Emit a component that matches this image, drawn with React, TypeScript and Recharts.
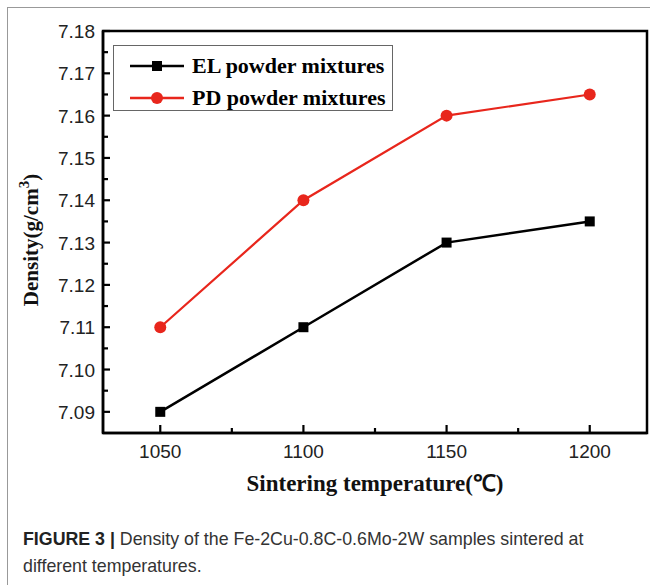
import React from 'react';
import { LineChart, Line, XAxis, YAxis, ReferenceArea, Legend } from 'recharts';

const temperatures = [1050, 1100, 1150, 1200];
const elDensity = [7.09, 7.11, 7.13, 7.135];
const pdDensity = [7.11, 7.14, 7.16, 7.165];
const xTicks = [1050, 1075, 1100, 1125, 1150, 1175, 1200];
const xMajor = [1050, 1100, 1150, 1200];
const yTicks = [7.09, 7.095, 7.1, 7.105, 7.11, 7.115, 7.12, 7.125, 7.13, 7.135, 7.14, 7.145, 7.15, 7.155, 7.16, 7.165, 7.17, 7.175, 7.18];
const yMajor = [7.09, 7.1, 7.11, 7.12, 7.13, 7.14, 7.15, 7.16, 7.17, 7.18];
const seriesNames = ['EL powder mixtures', 'PD powder mixtures'];

const data = temperatures.map((t, i) => ({ t, el: elDensity[i], pd: pdDensity[i] }));

const RED = '#e8261c';
const SERIF = '"Liberation Serif", "Times New Roman", serif';
const SANS = '"Liberation Sans", Arial, sans-serif';

const isMajor = (arr: number[], v: number) => arr.some((m) => Math.abs(m - v) < 1e-6);

const YTick = (props: any) => {
  const { x, y, payload } = props;
  const major = isMajor(yMajor, payload.value);
  return (
    <g>
      <line x1={x} x2={x + (major ? 7 : 5)} y1={y} y2={y} stroke="#000" strokeWidth={2.2} />
      {major && (
        <text x={x - 8} y={y} dy={7} textAnchor="end" fontFamily={SANS} fontSize={19} fill="#222">
          {payload.value.toFixed(2)}
        </text>
      )}
    </g>
  );
};

const XTick = (props: any) => {
  const { x, y, payload } = props;
  const major = isMajor(xMajor, payload.value);
  return (
    <g>
      <line x1={x} x2={x} y1={y} y2={y - (major ? 8 : 5)} stroke="#000" strokeWidth={2.2} />
      {major && (
        <text x={x} y={y + 25} textAnchor="middle" fontFamily={SANS} fontSize={19} fill="#222">
          {payload.value}
        </text>
      )}
    </g>
  );
};

const SquareDot = (props: any) => {
  const { cx, cy } = props;
  if (cx == null || cy == null) return null;
  return <rect x={cx - 5} y={cy - 5} width={10} height={10} fill="#000" />;
};

const CircleDot = (props: any) => {
  const { cx, cy } = props;
  if (cx == null || cy == null) return null;
  return <circle cx={cx} cy={cy} r={6} fill={RED} />;
};

const LegendContent = () => (
  <div
    style={{
      width: 280,
      height: 66,
      border: '1.5px solid #666',
      boxSizing: 'border-box',
      background: '#fff',
      position: 'relative',
    }}
  >
    {seriesNames.map((name, i) => (
      <div key={name} style={{ position: 'absolute', left: 0, top: i === 0 ? 8 : 40, height: 24, display: 'flex', alignItems: 'center' }}>
        <svg width={75} height={24} style={{ display: 'block' }}>
          <line x1={16} x2={70} y1={12} y2={12} stroke={i === 0 ? '#000' : RED} strokeWidth={2.5} />
          {i === 0 ? <rect x={38} y={7} width={10} height={10} fill="#000" /> : <circle cx={43} cy={12} r={6} fill={RED} />}
        </svg>
        <span style={{ fontFamily: SERIF, fontWeight: 'bold', fontSize: 22, color: '#000', marginLeft: 3, whiteSpace: 'nowrap' }}>{name}</span>
      </div>
    ))}
  </div>
);

export default function App() {
  return (
    <div style={{ position: 'absolute', left: 0, top: 0, width: 650, height: 585, background: '#fff', overflow: 'hidden' }}>
      <div style={{ position: 'absolute', left: 7, top: 7, width: 700, height: 700, borderLeft: '1.5px solid #999', borderTop: '1.5px solid #999' }} />
      <div style={{ position: 'absolute', left: 0, top: 0 }}>
        <LineChart width={650} height={585} data={data} margin={{ top: 31, right: 3, left: 43, bottom: 122 }}>
          <XAxis
            dataKey="t"
            type="number"
            domain={[1030, 1220]}
            ticks={xTicks}
            interval={0}
            allowDataOverflow
            height={30}
            tickSize={0}
            tickMargin={0}
            tickLine={false}
            tick={<XTick />}
            axisLine={{ stroke: '#000', strokeWidth: 2.5 }}
            label={{
              content: () => (
                <text x={375} y={491} textAnchor="middle" fontFamily={SERIF} fontWeight="bold" fontSize={23} fill="#111">
                  Sintering temperature(℃)
                </text>
              ),
            }}
          />
          <YAxis
            type="number"
            domain={[7.085, 7.18]}
            ticks={yTicks}
            interval={0}
            allowDataOverflow
            width={60}
            tickSize={0}
            tickMargin={0}
            tickLine={false}
            tick={<YTick />}
            axisLine={{ stroke: '#000', strokeWidth: 2.5 }}
            label={{
              content: () => (
                <text transform="translate(38,240) rotate(-90)" textAnchor="middle" fontFamily={SERIF} fontWeight="bold" fontSize={21} fill="#111">
                  Density(g/cm
                  <tspan dy={-9} fontSize={15}>3</tspan>
                  <tspan dy={9}>)</tspan>
                </text>
              ),
            }}
          />
          <ReferenceArea x1={1030} x2={1220} y1={7.085} y2={7.18} fill="none" stroke="#000" strokeWidth={2.5} ifOverflow="visible" />
          <Legend
            layout="vertical"
            align="center"
            verticalAlign="middle"
            content={<LegendContent />}
            wrapperStyle={{ position: 'absolute', left: 113, top: 45, width: 280, height: 66 }}
          />
          <Line dataKey="el" name={seriesNames[0]} stroke="#000" strokeWidth={2.5} dot={<SquareDot />} isAnimationActive={false} />
          <Line dataKey="pd" name={seriesNames[1]} stroke={RED} strokeWidth={2.2} dot={<CircleDot />} isAnimationActive={false} />
        </LineChart>
      </div>
      <div style={{ position: 'absolute', left: 23, top: 526, width: 620, fontFamily: SANS, fontSize: 17.8, color: '#333', lineHeight: '27px' }}>
        <span style={{ fontWeight: 'bold', color: '#222' }}>FIGURE 3 | </span>
        Density of the Fe-2Cu-0.8C-0.6Mo-2W samples sintered at
        <br />
        different temperatures.
      </div>
    </div>
  );
}
